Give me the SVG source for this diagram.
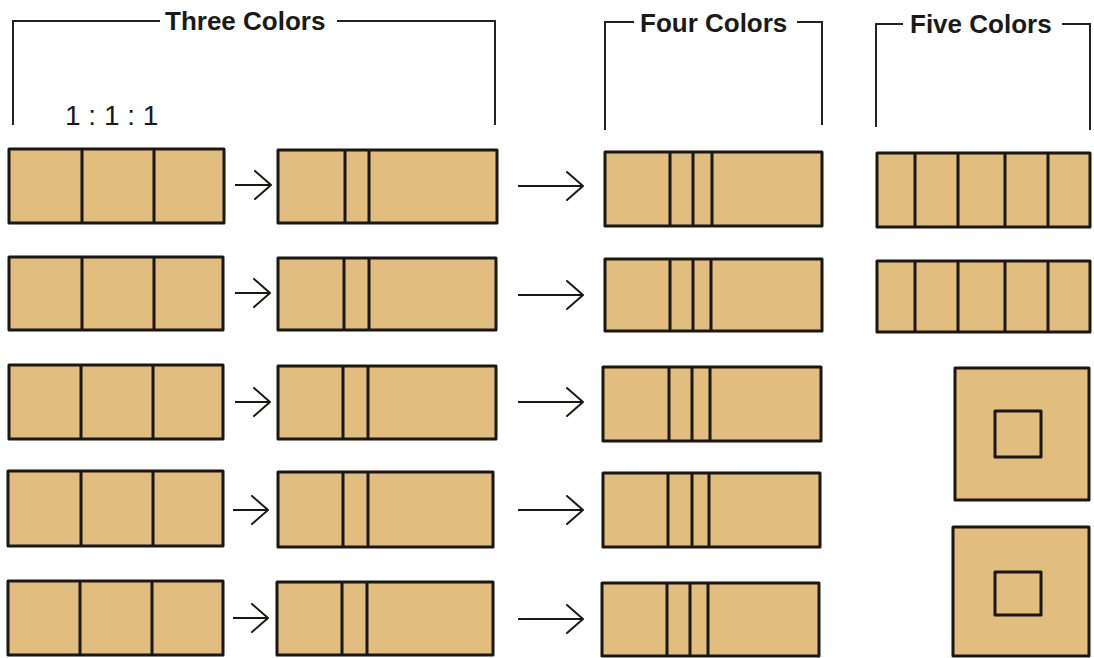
<svg xmlns="http://www.w3.org/2000/svg" width="1094" height="658" viewBox="0 0 1094 658">
<style>
.bg{fill:#ffffff}
.box{fill:#E1BD80;stroke:#1b1712;stroke-width:3;stroke-linejoin:round}
.div{stroke:#1b1712;stroke-width:3;fill:none}
.brk{stroke:#222;stroke-width:2;fill:none}
.hdr{font-family:"Liberation Sans",Arial,Helvetica,sans-serif;font-weight:bold;font-size:26px;fill:#1a1a1a}
.ratio{font-family:"Liberation Sans",Arial,Helvetica,sans-serif;font-size:28px;fill:#1a1a1a}
.arr{stroke:#1b1712;stroke-width:2;fill:none;marker-end:url(#chev)}
</style>
<defs>
<marker id="chev" markerUnits="userSpaceOnUse" viewBox="-2 -2 20 32" markerWidth="20" markerHeight="32" refX="16" refY="14" orient="auto">
<path d="M0,0 L16,14 L0,28" fill="none" stroke="#1b1712" stroke-width="2" stroke-linejoin="round" stroke-linecap="round"/>
</marker>
</defs>
<rect class="bg" x="0" y="0" width="1094" height="658"/>

<g id="header-three">
<path class="brk" d="M13,125 V21 H160 M337,21 H495 V125"/>
<text class="hdr" x="165" y="30">Three Colors</text>
</g>
<g id="header-four">
<path class="brk" d="M605,130 V22 H634 M797,22 H822 V125"/>
<text class="hdr" x="640" y="32">Four Colors</text>
</g>
<g id="header-five">
<path class="brk" d="M876,127 V24 H903 M1062,24 H1090 V130"/>
<text class="hdr" x="910" y="33">Five Colors</text>
</g>
<g id="ratio-label">
<text class="ratio" x="65" y="125">1 : 1 : 1</text>
</g>

<!-- Column 1: three equal bands -->
<g id="c1r1"><rect class="box" x="9" y="149" width="215" height="74"/><path class="div" d="M82,149 V223 M154,149 V223"/></g>
<g id="c1r2"><rect class="box" x="9" y="257" width="214" height="73"/><path class="div" d="M82,257 V330 M154,257 V330"/></g>
<g id="c1r3"><rect class="box" x="9" y="365" width="214" height="74"/><path class="div" d="M81,365 V439 M153,365 V439"/></g>
<g id="c1r4"><rect class="box" x="8" y="471" width="215" height="75"/><path class="div" d="M81,471 V546 M153,471 V546"/></g>
<g id="c1r5"><rect class="box" x="8" y="581" width="215" height="74"/><path class="div" d="M80,581 V655 M152,581 V655"/></g>

<!-- Column 2 -->
<g id="c2r1"><rect class="box" x="278" y="150" width="219" height="73"/><path class="div" d="M345,150 V223 M369,150 V223"/></g>
<g id="c2r2"><rect class="box" x="278" y="258" width="218" height="72"/><path class="div" d="M344,258 V330 M369,258 V330"/></g>
<g id="c2r3"><rect class="box" x="278" y="366" width="218" height="73"/><path class="div" d="M343,366 V439 M368,366 V439"/></g>
<g id="c2r4"><rect class="box" x="278" y="472" width="215" height="75"/><path class="div" d="M343,472 V547 M368,472 V547"/></g>
<g id="c2r5"><rect class="box" x="277" y="582" width="216" height="73"/><path class="div" d="M342,582 V655 M367,582 V655"/></g>

<!-- Column 3: four colors -->
<g id="c3r1"><rect class="box" x="605" y="152" width="217" height="74"/><path class="div" d="M670,152 V226 M693,152 V226 M712,152 V226"/></g>
<g id="c3r2"><rect class="box" x="605" y="259" width="217" height="72"/><path class="div" d="M670,259 V331 M693,259 V331 M711,259 V331"/></g>
<g id="c3r3"><rect class="box" x="603" y="367" width="218" height="74"/><path class="div" d="M669,367 V441 M692,367 V441 M710,367 V441"/></g>
<g id="c3r4"><rect class="box" x="603" y="473" width="217" height="74"/><path class="div" d="M668,473 V547 M692,473 V547 M709,473 V547"/></g>
<g id="c3r5"><rect class="box" x="602" y="583" width="217" height="73"/><path class="div" d="M667,583 V656 M690,583 V656 M708,583 V656"/></g>

<!-- Column 4: five colors -->
<g id="c4r1"><rect class="box" x="877" y="153" width="213" height="74"/><path class="div" d="M915,153 V227 M958,153 V227 M1005,153 V227 M1048,153 V227"/></g>
<g id="c4r2"><rect class="box" x="877" y="261" width="213" height="71"/><path class="div" d="M915,261 V332 M958,261 V332 M1005,261 V332 M1048,261 V332"/></g>
<g id="c4sq1"><rect class="box" x="955" y="368" width="134" height="132"/><rect class="box" x="995" y="411" width="46" height="46"/></g>
<g id="c4sq2"><rect class="box" x="953" y="527" width="136" height="129"/><rect class="box" x="995" y="572" width="46" height="43"/></g>

<g id="connectors">
<line class="arr" x1="235" y1="185" x2="271" y2="185"/>
<line class="arr" x1="235" y1="293" x2="270" y2="293"/>
<line class="arr" x1="235" y1="402" x2="270" y2="402"/>
<line class="arr" x1="233" y1="510" x2="268" y2="510"/>
<line class="arr" x1="233" y1="618" x2="268" y2="618"/>
<line class="arr" x1="518" y1="186" x2="583" y2="186"/>
<line class="arr" x1="518" y1="295" x2="583" y2="295"/>
<line class="arr" x1="518" y1="402" x2="583" y2="402"/>
<line class="arr" x1="518" y1="510" x2="583" y2="510"/>
<line class="arr" x1="518" y1="619" x2="583" y2="619"/>
</g>
</svg>
